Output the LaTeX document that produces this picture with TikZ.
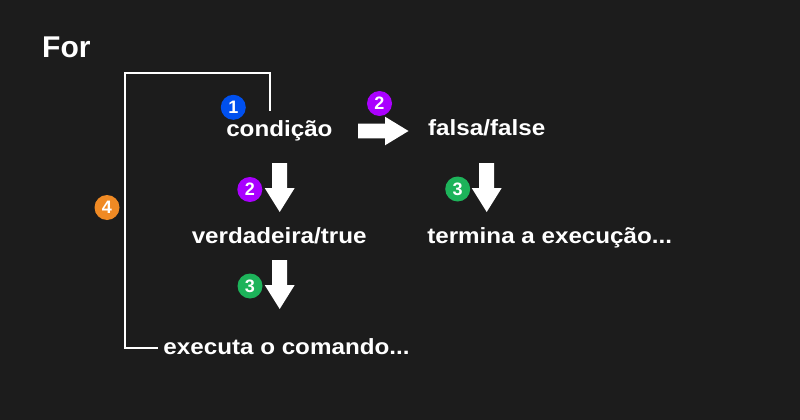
\documentclass[tikz,border=0pt]{standalone}
\usepackage{fontspec}
\setmainfont{Liberation Sans}
\newfontfamily\lblfont{Liberation Sans}[FakeStretch=1.1]
\definecolor{bgc}{HTML}{1C1C1C}
\definecolor{cblue}{HTML}{0050EF}
\definecolor{cpurple}{HTML}{AA00FF}
\definecolor{cgreen}{HTML}{1DB35A}
\definecolor{corange}{HTML}{F08A24}
\begin{document}
\begin{tikzpicture}[x=1pt,y=-1pt,
  lbl/.style={text=white,inner sep=0pt,anchor=base,font=\lblfont\bfseries\fontsize{22}{26}\selectfont},
  badge/.style={circle,fill=#1,text=white,inner sep=0pt,minimum size=25pt,font=\bfseries\fontsize{18}{20}\selectfont},
  loopline/.style={draw=white,line width=2pt},
  blockarr/.style={fill=white},
  downarrow/.pic={\fill[blockarr] (-7.5,0) -- (7.5,0) -- (7.5,25) -- (15,25) -- (0,49) -- (-15,25) -- (-7.5,25) -- cycle;}
]
\fill[bgc] (0,0) rectangle (800,420);
\useasboundingbox (0,0) rectangle (800,420);

\node[text=white,inner sep=0pt,anchor=base west,font=\bfseries\fontsize{30}{34}\selectfont] (title) at (42,57.3) {For};

\node[lbl] (cond) at (279.4,136.2) {condição};
\node[lbl] (falsa) at (486.7,135.7) {falsa/false};
\node[lbl] (verd) at (279.2,243.3) {verdadeira/true};
\node[lbl] (term) at (549.7,243.3) {termina a execução...};
\node[lbl] (exec) at (286.5,354.8) {executa o comando...};

% loop line
\coordinate (lstart) at (270,110.7);
\coordinate (ltr) at (270,72.7);
\coordinate (ltl) at (125,72.7);
\coordinate (lbl) at (125,348.3);
\coordinate (lend) at (158.3,348.3);
\draw[loopline] (lstart) -- (ltr) -- (ltl) -- (lbl) -- (lend);

% arrows
\fill[blockarr] (358,123.7) -- (385,123.7) -- (385,116.7) -- (408.5,131) -- (385,145.3) -- (385,138.3) -- (358,138.3) -- cycle;
\pic at (279.7,163) {downarrow};
\pic at (279.7,260) {downarrow};
\pic at (486.7,163) {downarrow};

% badges
\node[badge=cblue] (b1) at (233.3,107.3) {1};
\node[badge=cpurple] (b2a) at (379.5,103.5) {2};
\node[badge=cpurple] (b2b) at (249.8,189.5) {2};
\node[badge=cgreen] (b3a) at (250,286) {3};
\node[badge=cgreen] (b3b) at (457.7,189) {3};
\node[badge=corange] (b4) at (107,207.5) {4};
\end{tikzpicture}
\end{document}
